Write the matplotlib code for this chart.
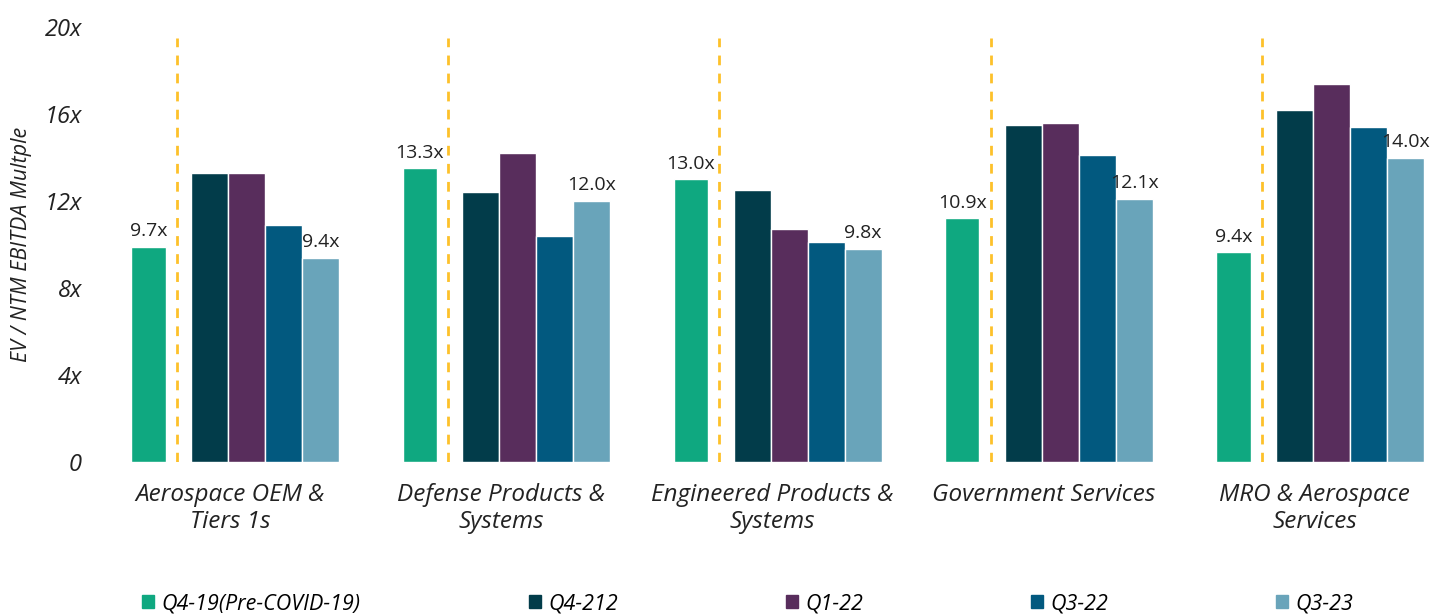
import numpy as np
import matplotlib.pyplot as plt
from matplotlib.patches import Patch

categories = ["Aerospace OEM &\nTiers 1s", "Defense Products &\nSystems",
              "Engineered Products &\nSystems", "Government Services",
              "MRO & Aerospace\nServices"]
series = ["Q4-19(Pre-COVID-19)", "Q4-212", "Q1-22", "Q3-22", "Q3-23"]
colors = ["#0FA880", "#023C4A", "#582D5C", "#02597F", "#69A4BA"]

# bar heights
q4_19 = [9.9, 13.5, 13.0, 11.2, 9.65]
q4_21 = [13.3, 12.4, 12.5, 15.5, 16.2]
q1_22 = [13.3, 14.2, 10.7, 15.6, 17.4]
q3_22 = [10.9, 10.4, 10.1, 14.1, 15.4]
q3_23 = [9.4, 12.0, 9.8, 12.1, 14.0]
values = [q4_19, q4_21, q1_22, q3_22, q3_23]

# printed labels
q4_19_labels = ["9.7x", "13.3x", "13.0x", "10.9x", "9.4x"]
q3_23_labels = ["9.4x", "12.0x", "9.8x", "12.1x", "14.0x"]

W, H = 1437, 614
fig = plt.figure(figsize=(W / 100, H / 100), dpi=100)
ax = fig.add_axes([100 / W, (H - 462) / H, (W - 100) / W, 435 / H])

font = "Open Sans"
unit = 37.0
group_step = 271.25 / unit
offsets = [0, 1.65, 2.65, 3.65, 4.65]
widths = [0.93, 1.0, 1.0, 1.0, 1.0]
base = np.arange(len(categories)) * group_step

for k in range(5):
    ax.bar(base + offsets[k], values[k], width=widths[k], color=colors[k],
           edgecolor="white", linewidth=1)

for i in range(len(categories)):
    ax.plot([base[i] + 0.77] * 2, [0, 19.5], color="#FDC12A", lw=2,
            linestyle=(0, (3.5, 3)), zorder=0)
    ax.text(base[i], q4_19[i] + 0.3, q4_19_labels[i], ha="center", va="bottom",
            fontsize=14, family=font, color="#222222")
    ax.text(base[i] + 4.65, q3_23[i] + 0.3, q3_23_labels[i], ha="center", va="bottom",
            fontsize=14, family=font, color="#222222")

ax.set_ylim(0, 20)
ax.set_xlim((100 - 148.5) / unit, (W - 148.5) / unit)
ax.set_yticks([0, 4, 8, 12, 16, 20])
ax.set_yticklabels(["0", "4x", "8x", "12x", "16x", "20x"], fontsize=17,
                   family=font, style="italic", color="#222222")
ax.set_xticks(base + 2.2)
ax.set_xticklabels(categories, fontsize=17.5, family=font, style="italic",
                   color="#222222", linespacing=1.2)
ax.tick_params(length=0, axis="y", pad=13)
ax.tick_params(length=0, axis="x", pad=15)
for s in ax.spines.values():
    s.set_visible(False)

ax.set_ylabel("EV / NTM EBITDA Multple", fontsize=15.5, family=font, style="italic",
              color="#222222")
ax.yaxis.set_label_coords(-0.051, 0.5)

handles = [Patch(color=c) for c in colors]
fig.legend(handles, series, loc="center left", bbox_to_anchor=(123 / W, 10 / H),
           ncol=5, frameon=False, handlelength=0.55, handleheight=0.55,
           handletextpad=0.35, columnspacing=7.8,
           prop={"family": font, "style": "italic", "size": 15.5})

fig.savefig("out.png", dpi=100)
